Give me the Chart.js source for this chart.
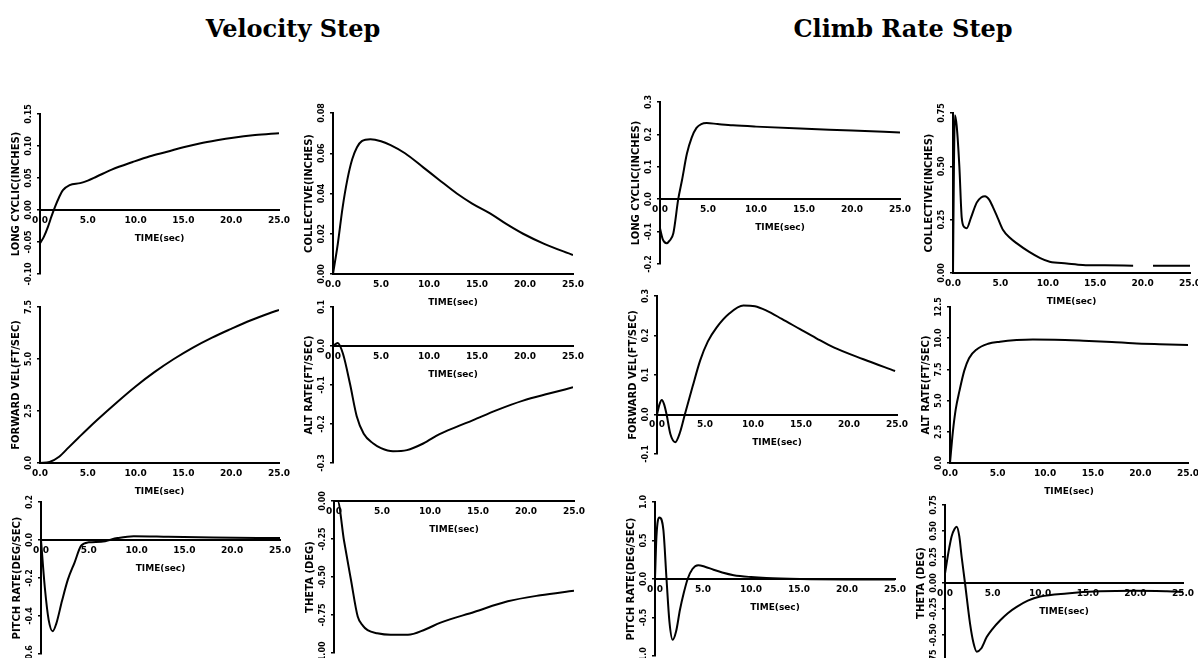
<!DOCTYPE html>
<html>
<head>
<meta charset="utf-8">
<script src="https://cdn.jsdelivr.net/npm/chart.js@4.4.1/dist/chart.umd.min.js"></script>
<style>
  html, body { margin: 0; padding: 0; background: #fff; }
  #page { position: relative; width: 1198px; height: 658px; overflow: hidden; background: #fff; }
  .heading { position: absolute; top: 17px; font: bold 24px "DejaVu Serif", serif; line-height: 1; color: #000; transform: translateX(-50%); white-space: nowrap; }
  canvas { position: absolute; }
</style>
</head>
<body>
<div id="page">
  <div class="heading" style="left:293px">Velocity Step</div>
  <div class="heading" style="left:903px">Climb Rate Step</div>
</div>
<script>
// shared time axis
const timeTicks = ['0.0', '5.0', '10.0', '15.0', '20.0', '25.0'];

// Velocity step - long cyclic
const velLongT = [0, 0.4, 0.84, 1.2, 1.57, 2.0, 2.4, 3.1, 4.2, 5.0, 5.9, 7.5, 9.7, 11.5, 13.3, 15.0, 16.7, 18.5, 20.2, 22.5, 25];
const velLongV = [-0.052, -0.042, -0.026, -0.01, 0.005, 0.02, 0.031, 0.039, 0.042, 0.046, 0.052, 0.063, 0.075, 0.084, 0.091, 0.098, 0.104, 0.109, 0.113, 0.117, 0.12];
const velLongTicks = ['-0.10', '-0.05', '0.00', '0.05', '0.10', '0.15'];

// Velocity step - forward velocity
const velFwdT = [0, 1, 2, 3, 4, 5, 6, 8, 10, 12, 14, 16, 18, 20, 22, 24, 25];
const velFwdV = [0, 0.05, 0.3, 0.75, 1.2, 1.65, 2.08, 2.9, 3.68, 4.38, 5.0, 5.55, 6.03, 6.45, 6.85, 7.2, 7.36];
const velFwdTicks = ['0.0', '2.5', '5.0', '7.5'];

// Velocity step - pitch rate
const velPitchT = [0, 0.4, 0.8, 1.22, 1.6, 2.2, 2.8, 3.5, 4.2, 5.0, 6.3, 8.0, 9.7, 13.3, 18, 25];
const velPitchV = [0, -0.25, -0.42, -0.48, -0.44, -0.32, -0.21, -0.12, -0.03, -0.012, -0.009, 0.01, 0.02, 0.017, 0.013, 0.01];
const velPitchTicks = ['-0.6', '-0.4', '-0.2', '0.0', '0.2'];

// Velocity step - collective
const velCollT = [0, 0.5, 1, 1.5, 2, 2.5, 3, 3.9, 5, 6, 7.5, 9.4, 11, 12.9, 14.5, 16.4, 18, 19.8, 22, 25];
const velCollV = [0, 0.015, 0.033, 0.047, 0.057, 0.063, 0.066, 0.067, 0.066, 0.064, 0.06, 0.053, 0.047, 0.040, 0.035, 0.030, 0.025, 0.020, 0.015, 0.0094];
const velCollTicks = ['0.00', '0.02', '0.04', '0.06', '0.08'];

// Velocity step - altitude rate
const velAltT = [0, 0.5, 1.04, 1.77, 2.47, 3.2, 4.2, 5.0, 6.25, 7.7, 9.4, 11.1, 12.8, 14.6, 17, 19.8, 22.5, 25];
const velAltV = [0, 0.008, -0.02, -0.097, -0.18, -0.225, -0.25, -0.262, -0.27, -0.267, -0.25, -0.226, -0.208, -0.19, -0.165, -0.14, -0.122, -0.106];
const velAltTicks = ['-0.3', '-0.2', '-0.1', '0.0', '0.1'];

// Velocity step - theta
const velThetaT = [0, 0.38, 1.04, 1.77, 2.47, 3.0, 3.5, 4.5, 5.9, 7.7, 9.5, 11.1, 14.6, 18.1, 21.5, 25];
const velThetaV = [0, 0, -0.26, -0.52, -0.76, -0.82, -0.85, -0.87, -0.88, -0.88, -0.845, -0.80, -0.73, -0.66, -0.62, -0.59];
const velThetaTicks = ['-1.00', '-0.75', '-0.50', '-0.25', '0.00'];

// Climb rate step - long cyclic
const climbLongT = [0, 0.3, 0.7, 1.0, 1.39, 1.9, 2.3, 2.8, 3.3, 3.8, 4.3, 4.86, 6, 7.6, 10, 14.6, 20, 25];
const climbLongV = [-0.09, -0.125, -0.136, -0.128, -0.105, 0, 0.06, 0.14, 0.19, 0.22, 0.232, 0.235, 0.232, 0.228, 0.224, 0.218, 0.212, 0.206];
const climbLongTicks = ['-0.2', '-0.1', '0.0', '0.1', '0.2', '0.3'];

// Climb rate step - forward velocity
const climbFwdT = [0, 0.25, 0.5, 0.75, 1.0, 1.4, 1.9, 2.4, 2.9, 3.7, 4.5, 5.3, 6.2, 7.5, 9.0, 10.2, 11.4, 13, 14.9, 16.6, 18.4, 21.5, 24.8];
const climbFwdV = [0, 0.025, 0.037, 0.025, 0, -0.05, -0.07, -0.045, 0, 0.07, 0.137, 0.185, 0.22, 0.255, 0.276, 0.274, 0.263, 0.242, 0.216, 0.193, 0.17, 0.14, 0.11];
const climbFwdTicks = ['-0.1', '0.0', '0.1', '0.2', '0.3'];

// Climb rate step - pitch rate
const climbPitchT = [0, 0.15, 0.45, 0.87, 1.2, 1.5, 1.84, 2.2, 2.6, 3.0, 3.4, 3.9, 4.5, 5.2, 6.1, 7, 8.2, 10, 11.6, 15.1, 20, 25];
const climbPitchV = [0, 0.55, 0.8, 0.64, 0, -0.55, -0.79, -0.68, -0.4, -0.18, 0, 0.13, 0.18, 0.16, 0.12, 0.085, 0.05, 0.025, 0.012, 0, -0.005, -0.005];
const climbPitchTicks = ['-1.0', '-0.5', '0.0', '0.5', '1.0'];

// Climb rate step - collective (gap in the trace near 20 s)
const climbCollT = [0, 0.1, 0.2, 0.39, 0.67, 0.92, 1.2, 1.45, 1.9, 2.5, 3.0, 3.38, 3.8, 4.2, 4.7, 5.3, 6.0, 6.7, 8.0, 9.2, 10.2, 12, 13.7, 16, 19, 20, 21.1, 25];
const climbCollV = [0, 0.5, 0.74, 0.69, 0.5, 0.26, 0.215, 0.21, 0.26, 0.33, 0.355, 0.36, 0.345, 0.31, 0.26, 0.2, 0.165, 0.14, 0.1, 0.07, 0.053, 0.045, 0.038, 0.036, 0.034, null, 0.034, 0.034];
const climbCollTicks = ['0.00', '0.25', '0.50', '0.75'];

// Climb rate step - altitude rate
const climbAltT = [0, 0.3, 0.6, 1.0, 1.5, 2.0, 2.8, 4.0, 5.25, 7, 8.7, 11, 14, 17, 19.2, 22, 25];
const climbAltV = [0, 2.5, 4.3, 5.8, 7.4, 8.4, 9.1, 9.55, 9.72, 9.85, 9.9, 9.88, 9.8, 9.7, 9.6, 9.52, 9.45];
const climbAltTicks = ['0.0', '2.5', '5.0', '7.5', '10.0', '12.5'];

// Climb rate step - theta
const climbThetaT = [0, 0.17, 0.45, 0.7, 1.0, 1.23, 1.5, 1.75, 2.1, 2.63, 3.0, 3.33, 3.8, 4.38, 5.0, 5.78, 6.6, 7.53, 8.7, 10, 12.8, 16.3, 20, 23.3, 25];
const climbThetaV = [0.09, 0.19, 0.34, 0.45, 0.52, 0.54, 0.45, 0.25, 0, -0.39, -0.58, -0.66, -0.63, -0.52, -0.44, -0.36, -0.29, -0.23, -0.17, -0.13, -0.1, -0.08, -0.075, -0.08, -0.085];
const climbThetaTicks = ['-0.75', '-0.50', '-0.25', '0.00', '0.25', '0.50', '0.75'];

// where each plot box sits on the page (axis left/right, top/bottom tick pixels)
const panels = [
  { x0: 40, x1: 279, yTop: 114, yBot: 274, title: 'LONG CYCLIC(INCHES)', t: velLongT, v: velLongV, ticks: velLongTicks },
  { x0: 40, x1: 279, yTop: 307, yBot: 463, title: 'FORWARD VEL(FT/SEC)', t: velFwdT, v: velFwdV, ticks: velFwdTicks },
  { x0: 41, x1: 280, yTop: 502, yBot: 654, title: 'PITCH RATE(DEG/SEC)', t: velPitchT, v: velPitchV, ticks: velPitchTicks },
  { x0: 333, x1: 573, yTop: 113, yBot: 274, title: 'COLLECTIVE(INCHES)', t: velCollT, v: velCollV, ticks: velCollTicks },
  { x0: 333, x1: 573, yTop: 307, yBot: 463, title: 'ALT RATE(FT/SEC)', t: velAltT, v: velAltV, ticks: velAltTicks },
  { x0: 334, x1: 574, yTop: 501, yBot: 653, title: 'THETA (DEG)', t: velThetaT, v: velThetaV, ticks: velThetaTicks },
  { x0: 660, x1: 900, yTop: 102, yBot: 264, title: 'LONG CYCLIC(INCHES)', t: climbLongT, v: climbLongV, ticks: climbLongTicks },
  { x0: 657, x1: 897, yTop: 296, yBot: 454, title: 'FORWARD VEL(FT/SEC)', t: climbFwdT, v: climbFwdV, ticks: climbFwdTicks },
  { x0: 655, x1: 895, yTop: 502, yBot: 656, title: 'PITCH RATE(DEG/SEC)', t: climbPitchT, v: climbPitchV, ticks: climbPitchTicks },
  { x0: 953, x1: 1190, yTop: 113, yBot: 273, title: 'COLLECTIVE(INCHES)', t: climbCollT, v: climbCollV, ticks: climbCollTicks },
  { x0: 950, x1: 1188, yTop: 307, yBot: 463, title: 'ALT RATE(FT/SEC)', t: climbAltT, v: climbAltV, ticks: climbAltTicks },
  { x0: 945, x1: 1183, yTop: 505, yBot: 661, title: 'THETA (DEG)', t: climbThetaT, v: climbThetaV, ticks: climbThetaTicks }
];

const page = document.getElementById('page');
const FAMILY = 'DejaVu Sans';
const yTickFont = { family: FAMILY, size: 8, weight: 'bold' };
const xTickFont = { family: FAMILY, size: 9, weight: 'bold' };
const titleFont = { family: FAMILY, size: 10, weight: 'bold' };

// measure labels so rotated y tick text can be centred on its tick
const measureCtx = document.createElement('canvas').getContext('2d');
measureCtx.font = 'bold 8px "' + FAMILY + '"';
function widest(labels) {
  return Math.max(...labels.map(s => measureCtx.measureText(s).width));
}

const W = 30, PT = 14, PR = 18, PB = 44;

panels.forEach(p => {
  const canvas = document.createElement('canvas');
  const w = W + (p.x1 - p.x0) + PR;
  const h = (p.yBot - p.yTop) + PT + PB;
  canvas.width = w;
  canvas.height = h;
  canvas.style.left = (p.x0 - W) + 'px';
  canvas.style.top = (p.yTop - PT) + 'px';
  canvas.style.width = w + 'px';
  canvas.style.height = h + 'px';
  page.appendChild(canvas);

  const yVals = p.ticks.map(Number);
  const yPad = 8 - widest(p.ticks) / 2;

  new Chart(canvas, {
    type: 'line',
    data: {
      datasets: [{
        data: p.t.map((x, i) => ({ x: x, y: p.v[i] })),
        borderColor: '#000',
        borderWidth: 2,
        pointRadius: 0,
        cubicInterpolationMode: 'monotone',
        spanGaps: false
      }]
    },
    options: {
      responsive: false,
      animation: false,
      devicePixelRatio: 1,
      layout: { padding: { left: 0, top: PT, right: PR, bottom: PB } },
      plugins: { legend: { display: false }, tooltip: { enabled: false } },
      scales: {
        x: {
          type: 'linear',
          min: 0,
          max: 25,
          position: { y: 0 },
          afterBuildTicks: s => { s.ticks = timeTicks.map(l => ({ value: Number(l) })); },
          ticks: {
            autoSkip: false, maxRotation: 0, minRotation: 0, padding: 5,
            color: '#000', font: xTickFont,
            callback: (val, i) => timeTicks[i]
          },
          grid: { display: false, drawTicks: false },
          border: { display: true, color: '#000', width: 2 },
          title: { display: true, text: 'TIME(sec)', color: '#000', font: xTickFont, padding: { top: 2, bottom: 0 } }
        },
        y: {
          type: 'linear',
          min: yVals[0],
          max: yVals[yVals.length - 1],
          afterBuildTicks: s => { s.ticks = yVals.map(v => ({ value: v })); },
          afterFit: s => { s.width = W; },
          ticks: {
            autoSkip: false, minRotation: 90, maxRotation: 90, crossAlign: 'center',
            padding: yPad, color: '#000', font: yTickFont,
            callback: (val, i) => p.ticks[i]
          },
          grid: { drawOnChartArea: false, drawTicks: true, tickLength: 3, color: '#000', lineWidth: 1.5 },
          border: { color: '#000', width: 2 },
          title: { display: true, text: p.title, color: '#000', font: titleFont, padding: 0 }
        }
      }
    }
  });
});
</script>
</body>
</html>
